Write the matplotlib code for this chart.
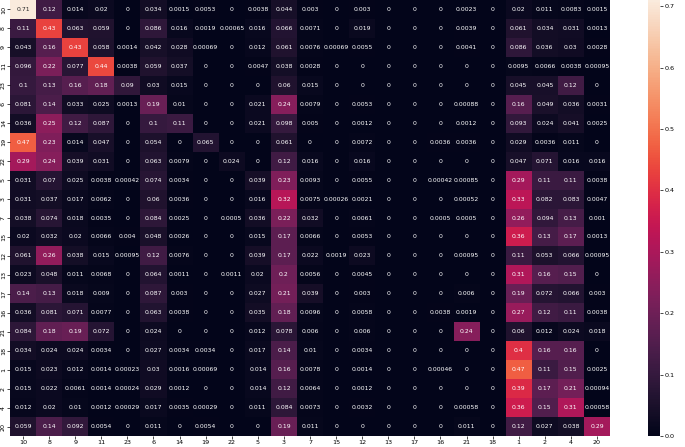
import numpy as np
import pandas as pd
import matplotlib
matplotlib.use("Agg")
import matplotlib.pyplot as plt
import seaborn as sns

# クラスの並び(行と列で共通)
labels = ["10", "8", "9", "11", "23", "6", "14", "19", "22", "5", "3", "7",
          "15", "12", "13", "17", "16", "21", "18", "1", "2", "4", "20"]

# 各行の値 (列の順は labels と同じ)
r10 = [0.71, 0.12, 0.014, 0.02, 0, 0.034, 0.0015, 0.0053, 0, 0.0038, 0.044, 0.003, 0, 0.003, 0, 0, 0, 0.0023, 0, 0.02, 0.011, 0.0083, 0.0015]
r8 = [0.11, 0.43, 0.063, 0.059, 0, 0.086, 0.016, 0.0019, 0.00065, 0.016, 0.066, 0.0071, 0, 0.019, 0, 0, 0, 0.0039, 0, 0.061, 0.034, 0.031, 0.0013]
r9 = [0.043, 0.16, 0.43, 0.058, 0.0014, 0.042, 0.028, 0.00069, 0, 0.012, 0.061, 0.0076, 0.00069, 0.0055, 0, 0, 0, 0.0041, 0, 0.086, 0.036, 0.03, 0.0028]
r11 = [0.096, 0.22, 0.077, 0.44, 0.0038, 0.059, 0.037, 0, 0, 0.0047, 0.038, 0.0028, 0, 0, 0, 0, 0, 0, 0, 0.0095, 0.0066, 0.0038, 0.00095]
r23 = [0.1, 0.13, 0.16, 0.18, 0.09, 0.03, 0.015, 0, 0, 0, 0.06, 0.015, 0, 0, 0, 0, 0, 0, 0, 0.045, 0.045, 0.12, 0]
r6 = [0.081, 0.14, 0.033, 0.025, 0.0013, 0.19, 0.01, 0, 0, 0.021, 0.24, 0.0079, 0, 0.0053, 0, 0, 0, 0.00088, 0, 0.16, 0.049, 0.036, 0.0031]
r14 = [0.036, 0.25, 0.12, 0.087, 0, 0.1, 0.11, 0, 0, 0.021, 0.098, 0.005, 0, 0.0012, 0, 0, 0, 0.0012, 0, 0.093, 0.024, 0.041, 0.0025]
r19 = [0.47, 0.23, 0.014, 0.047, 0, 0.054, 0, 0.065, 0, 0, 0.061, 0, 0, 0.0072, 0, 0, 0.0036, 0.0036, 0, 0.029, 0.0036, 0.011, 0]
r22 = [0.29, 0.24, 0.039, 0.031, 0, 0.063, 0.0079, 0, 0.024, 0, 0.12, 0.016, 0, 0.016, 0, 0, 0, 0, 0, 0.047, 0.071, 0.016, 0.016]
r5 = [0.031, 0.07, 0.025, 0.0038, 0.00042, 0.074, 0.0034, 0, 0, 0.039, 0.23, 0.0093, 0, 0.0055, 0, 0, 0.00042, 0.00085, 0, 0.29, 0.11, 0.11, 0.0038]
r3 = [0.031, 0.037, 0.017, 0.0062, 0, 0.06, 0.0036, 0, 0, 0.016, 0.32, 0.0075, 0.00026, 0.0021, 0, 0, 0, 0.00052, 0, 0.33, 0.082, 0.083, 0.0047]
r7 = [0.038, 0.074, 0.018, 0.0035, 0, 0.084, 0.0025, 0, 0.0005, 0.036, 0.22, 0.032, 0, 0.0061, 0, 0, 0.0005, 0.0005, 0, 0.26, 0.094, 0.13, 0.001]
r15 = [0.02, 0.032, 0.02, 0.0066, 0.004, 0.048, 0.0026, 0, 0, 0.015, 0.17, 0.0066, 0, 0.0053, 0, 0, 0, 0, 0, 0.36, 0.13, 0.17, 0.0013]
r12 = [0.061, 0.26, 0.038, 0.015, 0.00095, 0.12, 0.0076, 0, 0, 0.039, 0.17, 0.022, 0.0019, 0.023, 0, 0, 0, 0.00095, 0, 0.11, 0.053, 0.066, 0.00095]
r13 = [0.023, 0.048, 0.011, 0.0068, 0, 0.064, 0.0011, 0, 0.0011, 0.02, 0.2, 0.0056, 0, 0.0045, 0, 0, 0, 0, 0, 0.31, 0.16, 0.15, 0]
r17 = [0.14, 0.13, 0.018, 0.009, 0, 0.087, 0.003, 0, 0, 0.027, 0.21, 0.039, 0, 0.003, 0, 0, 0, 0.006, 0, 0.19, 0.072, 0.066, 0.003]
r16 = [0.036, 0.081, 0.071, 0.0077, 0, 0.063, 0.0038, 0, 0, 0.035, 0.18, 0.0096, 0, 0.0058, 0, 0, 0.0038, 0.0019, 0, 0.27, 0.12, 0.11, 0.0038]
r21 = [0.084, 0.18, 0.19, 0.072, 0, 0.024, 0, 0, 0, 0.012, 0.078, 0.006, 0, 0.006, 0, 0, 0, 0.24, 0, 0.06, 0.012, 0.024, 0.018]
r18 = [0.034, 0.024, 0.024, 0.0034, 0, 0.027, 0.0034, 0.0034, 0, 0.017, 0.14, 0.01, 0, 0.0034, 0, 0, 0, 0, 0, 0.4, 0.16, 0.16, 0]
r1 = [0.015, 0.023, 0.012, 0.0014, 0.00023, 0.03, 0.0016, 0.00069, 0, 0.014, 0.16, 0.0078, 0, 0.0014, 0, 0, 0.00046, 0, 0, 0.47, 0.11, 0.15, 0.0025]
r2 = [0.015, 0.022, 0.0061, 0.0014, 0.00024, 0.029, 0.0012, 0, 0, 0.014, 0.12, 0.0064, 0, 0.0012, 0, 0, 0, 0, 0, 0.39, 0.17, 0.21, 0.00094]
r4 = [0.012, 0.02, 0.01, 0.0012, 0.00029, 0.017, 0.0035, 0.00029, 0, 0.011, 0.084, 0.0073, 0, 0.0032, 0, 0, 0, 0.00058, 0, 0.36, 0.15, 0.31, 0.00058]
r20 = [0.059, 0.14, 0.092, 0.0054, 0, 0.011, 0, 0.0054, 0, 0, 0.19, 0.011, 0, 0, 0, 0, 0, 0.011, 0, 0.12, 0.027, 0.038, 0.29]

rows = [r10, r8, r9, r11, r23, r6, r14, r19, r22, r5, r3, r7, r15, r12, r13,
        r17, r16, r21, r18, r1, r2, r4, r20]
df = pd.DataFrame(np.array(rows), index=labels, columns=labels)

fig = plt.figure(figsize=(6.85, 4.47), dpi=100)
ax = fig.add_axes([0.0146, 0.0246, 0.876, 0.9754])
cax = fig.add_axes([0.946, 0.0246, 0.0175, 0.9754])

sns.heatmap(df, annot=True, fmt=".2g", ax=ax, cbar_ax=cax,
            annot_kws={"fontsize": 4.4})

ax.tick_params(axis="both", labelsize=4.6, length=2, width=0.5, pad=1)
plt.setp(ax.get_yticklabels(), rotation=90, va="center")
plt.setp(ax.get_xticklabels(), rotation=0)
cax.tick_params(labelsize=4.6, length=2, width=0.5, pad=1)
cax.set_yticks([0.0, 0.1, 0.2, 0.3, 0.4, 0.5, 0.6, 0.7])

fig.savefig("out.png", dpi=100)
